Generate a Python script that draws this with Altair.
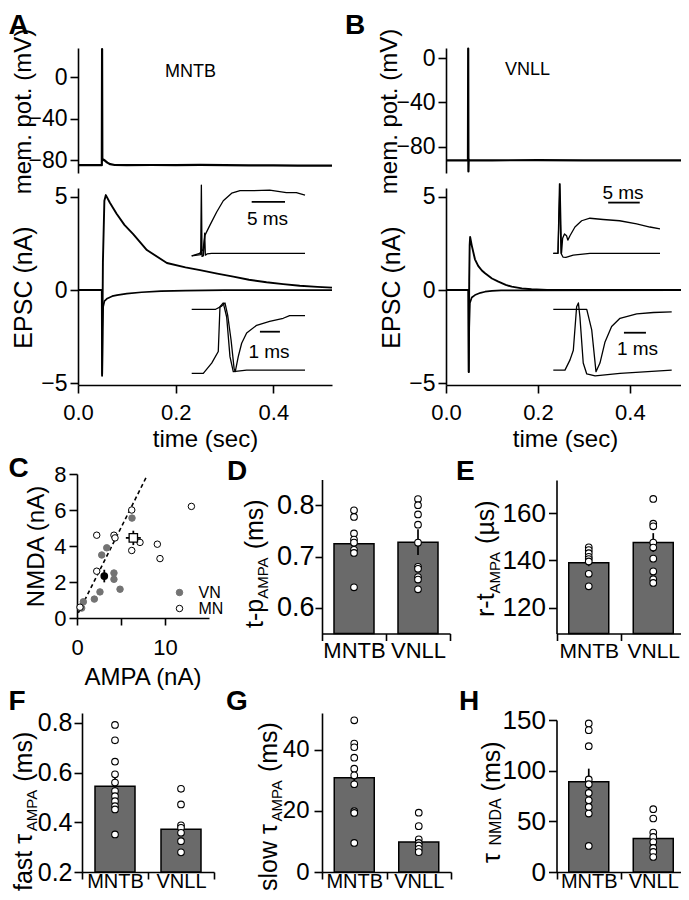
import altair as alt
import pandas as pd

# ------------------------------------------------------------------ data
# A (MNTB) membrane potential, time in s, mV
A_MEM_T = [0.0, 0.0488, 0.0493, 0.0498, 0.0515, 0.055, 0.06, 0.066, 0.075, 0.1, 0.15, 0.2, 0.25, 0.3, 0.35, 0.4, 0.45, 0.52]
A_MEM_V = [-85.0, -85.0, 27.0, -80.5, -79.5, -80.5, -82.5, -84.0, -84.8, -85.0, -84.8, -84.9, -84.7, -85.0, -85.1, -85.2, -85.3, -85.4]
# A EPSCs (nA): outward and inward
A_OUT_T = [0.0, 0.0488, 0.0493, 0.0510, 0.0540, 0.057, 0.065, 0.079, 0.095, 0.113, 0.141, 0.182, 0.22, 0.25, 0.285, 0.318, 0.35, 0.386, 0.42, 0.454, 0.49, 0.52]
A_OUT_V = [0.0, 0.0, -4.6, 1.5, 4.8, 5.1, 4.7, 4.1, 3.5, 3.0, 2.15, 1.45, 1.22, 1.07, 0.88, 0.72, 0.55, 0.42, 0.32, 0.23, 0.17, 0.13]
A_IN_T = [0.0, 0.0488, 0.0496, 0.0505, 0.0515, 0.054, 0.06, 0.07, 0.08, 0.1, 0.13, 0.17, 0.22, 0.3, 0.52]
A_IN_V = [0.0, 0.0, -4.5, -2.2, -0.9, -0.6, -0.45, -0.33, -0.27, -0.19, -0.12, -0.06, -0.03, -0.01, 0.0]
# A insets (ms, normalised amplitude)
AI1_UP_T = [0.0, 1.2, 1.7, 2.0, 2.74, 3.75, 4.74, 6.0, 7.25, 9.2, 11.7, 14.2, 15.7, 17.0]
AI1_UP_V = [-0.04, 0.0, 0.06, 0.29, 0.45, 0.66, 0.84, 0.96, 1.0, 1.0, 1.01, 0.97, 0.97, 0.93]
AI1_LO_T = [0.0, 1.35, 1.45, 1.55, 1.75, 1.95, 2.05, 2.3, 3.0, 17.0]
AI1_LO_V = [-0.04, -0.02, 1.09, -0.05, -0.04, 0.32, -0.03, -0.01, 0.0, 0.0]
AI2_X_T = [0.0, 0.58, 1.0, 1.33, 1.415, 1.58, 1.75, 1.915, 2.08, 2.75, 5.67]
AI2_X_V = [0.0, 0.0, 0.16, 0.34, 1.04, 1.10, 0.88, 0.26, 0.025, 0.05, 0.05]
AI2_Y_T = [0.0, 1.2, 1.5, 1.665, 1.8, 1.97, 2.12, 2.18, 2.33, 2.5, 2.75, 3.25, 3.9, 4.58, 4.9, 5.67]
AI2_Y_V = [1.0, 1.0, 1.05, 1.1, 0.91, 0.52, 0.08, 0.025, 0.26, 0.47, 0.63, 0.75, 0.81, 0.86, 0.9, 0.9]

# B (VNLL)
B_MEM_T = [0.0, 0.0478, 0.0483, 0.0488, 0.0493, 0.0505, 0.1, 0.2, 0.3, 0.4, 0.52]
B_MEM_V = [-92.0, -92.0, 8.5, -102.0, -91.0, -92.0, -92.0, -91.8, -92.0, -92.1, -92.0]
B_OUT_T = [0.0, 0.0488, 0.0494, 0.0505, 0.0515, 0.0525, 0.056, 0.063, 0.07, 0.078, 0.085, 0.1, 0.114, 0.13, 0.143, 0.165, 0.186, 0.22, 0.3, 0.52]
B_OUT_V = [0.0, 0.0, -4.4, 0.5, 2.4, 2.85, 2.4, 1.65, 1.3, 1.05, 0.9, 0.62, 0.45, 0.28, 0.18, 0.09, 0.04, 0.01, 0.0, 0.0]
B_IN_T = [0.0, 0.0488, 0.0496, 0.0505, 0.052, 0.056, 0.063, 0.075, 0.085, 0.1, 0.12, 0.52]
B_IN_V = [0.0, 0.0, -4.4, -2.0, -0.7, -0.4, -0.27, -0.15, -0.09, -0.05, -0.02, 0.0]
BI1_UP_T = [0.0, 0.74, 1.06, 1.3, 1.48, 1.77, 2.1, 2.3, 2.64, 3.43, 4.49, 5.8, 7.9, 10.5, 13.2, 15.3, 16.9]
BI1_UP_V = [0.0, 0.0, 1.11, 0.0, 0.24, 0.31, 0.28, 0.21, 0.28, 0.42, 0.52, 0.56, 0.54, 0.52, 0.47, 0.42, 0.39]
BI1_LO_T = [0.0, 0.74, 0.98, 1.22, 1.53, 2.0, 3.16, 5.8, 16.9]
BI1_LO_V = [0.0, 0.0, 1.11, 0.0, -0.06, -0.064, -0.03, 0.0, 0.0]
BI2_X_T = [0.0, 0.53, 0.76, 0.91, 1.06, 1.14, 1.21, 1.36, 1.52, 1.9, 3.03, 5.38]
BI2_X_V = [0.05, 0.05, 0.21, 0.36, 1.04, 1.1, 0.88, 0.16, -0.01, -0.04, 0.0, 0.05]
BI2_Y_T = [0.0, 1.52, 1.745, 1.9, 1.94, 2.12, 2.35, 2.65, 3.03, 3.79, 4.55, 5.38]
BI2_Y_V = [1.0, 1.0, 0.68, 0.16, 0.025, 0.16, 0.49, 0.73, 0.86, 0.93, 0.95, 0.96]

# C  NMDA vs AMPA (nA)
C_VN_X = [0.53, 0.72, 1.97, 2.61, 2.81, 3.38, 4.2, 4.2, 4.89, 6.25]
C_VN_Y = [0.55, 0.9, 1.05, 1.45, 3.5, 3.9, 2.5, 2.15, 1.6, 5.55]
C_MN_X = [0.34, 2.24, 2.24, 4.2, 4.32, 6.22, 6.22, 7.16, 9.13, 9.43, 13.0]
C_MN_Y = [0.6, 4.6, 2.6, 4.6, 4.45, 6.0, 3.75, 4.2, 4.1, 3.3, 6.2]
C_MEAN_GRP = ["VN", "MN"]
C_MEAN_X = [3.1, 6.4]
C_MEAN_Y = [2.33, 4.45]
C_SEM_X = [0.3, 0.85]
C_SEM_Y = [0.35, 0.4]
C_FIT_X = [0.15, 7.9]
C_FIT_Y = [0.28, 7.85]

GROUPS = ["MNTB", "VNLL"]
# D  t-p AMPA (ms)
D_MNTB = [0.79, 0.777, 0.745, 0.733, 0.727, 0.713, 0.707, 0.64]
D_VNLL = [0.812, 0.80, 0.782, 0.762, 0.727, 0.68, 0.676, 0.66, 0.655, 0.636]
D_MEAN = [0.725, 0.728]
D_SEM = [0.01, 0.025]
# E  r-t AMPA (us)
E_MNTB = [145.5, 144.3, 143.0, 141.5, 140.5, 139.5, 134.3, 129.0]
E_VNLL = [166.0, 155.5, 154.4, 147.5, 145.4, 140.7, 135.3, 132.0, 130.4]
E_MEAN = [139.0, 147.5]
E_SEM = [1.5, 4.0]
# F  fast tau AMPA (ms)
F_MNTB = [0.792, 0.730, 0.644, 0.593, 0.560, 0.526, 0.505, 0.485, 0.465, 0.452, 0.351]
F_VNLL = [0.535, 0.472, 0.388, 0.378, 0.358, 0.324, 0.279]
F_MEAN = [0.545, 0.372]
F_SEM = [0.045, 0.01]
# G  slow tau AMPA (ms)
G_MNTB = [49.6, 42.0, 40.8, 37.4, 33.8, 31.6, 28.7, 19.9, 19.3, 9.5]
G_VNLL = [19.4, 15.0, 10.7, 9.5, 8.7, 7.6, 6.5]
G_MEAN = [30.8, 9.8]
G_SEM = [1.7, 0.8]
# H  tau NMDA (ms)
H_MNTB = [146.6, 140.0, 124.2, 91.3, 86.7, 78.0, 70.8, 64.2, 57.7, 25.7]
H_VNLL = [62.0, 52.8, 38.9, 34.6, 29.6, 23.7, 19.8, 14.8]
H_MEAN = [89.0, 33.0]
H_SEM = [13.0, 3.0]

# ------------------------------------------------------------------ layout helpers
FONT = "Liberation Sans"
GRAY = "#6a6a6a"
W, H = 673, 884
M = 8  # page margin: positions below are page pixels


def px(v):
    return v - M


def qscale(domain, r0, r1):
    return alt.Scale(domain=domain, range=[px(r0), px(r1)], zero=False, nice=False)


def left_axis(ax_x, values, size=23, tick=8, pad=3, fmt=None, title=None,
              title_x=None, title_y=None, title_size=25):
    kw = dict(orient="left", offset=-px(ax_x), values=values, tickSize=tick,
              labelPadding=pad, labelFontSize=size)
    if fmt:
        kw["format"] = fmt
    if title:
        kw.update(title=title, titleX=title_x - ax_x, titleY=px(title_y), titleAngle=270,
                  titleAlign="center", titleBaseline="alphabetic", titleFontSize=title_size,
                  titleFontWeight="normal")
    else:
        kw["title"] = None
    return alt.Axis(**kw)


def bottom_axis(ax_y, values=None, size=23, tick=8, pad=11, fmt=None, title=None,
                title_x=None, title_y=None, title_size=25, label_expr=None, band=False):
    kw = dict(orient="bottom", offset=px(ax_y) - H, tickSize=tick, labelPadding=pad,
              labelFontSize=size, labelAngle=0)
    if values is not None:
        kw["values"] = values
    if fmt:
        kw["format"] = fmt
    if label_expr:
        kw["labelExpr"] = label_expr
    if band:
        kw["tickBand"] = "extent"
    if title:
        kw.update(title=title, titleX=px(title_x), titleY=title_y - ax_y, titleAlign="center",
                  titleBaseline="alphabetic", titleFontSize=title_size, titleFontWeight="normal")
    else:
        kw["title"] = None
    return alt.Axis(**kw)


def trace(ts, vs, xs, ys, xax=None, yax=None, width=1.7):
    d = pd.DataFrame({"t": ts, "v": vs, "i": list(range(len(ts)))})
    return alt.Chart(d).mark_line(color="black", strokeWidth=width, strokeJoin="round").encode(
        x=alt.X("t:Q", scale=xs, axis=xax), y=alt.Y("v:Q", scale=ys, axis=yax), order="i:Q")


def scalebar(t0, length, v, xs, ys):
    d = pd.DataFrame({"t0": [t0], "t1": [t0 + length], "v": [v]})
    return alt.Chart(d).mark_rule(color="black", strokeWidth=1.8).encode(
        x=alt.X("t0:Q", scale=xs, axis=None), x2="t1:Q", y=alt.Y("v:Q", scale=ys, axis=None))


def text(txt, x, y, size, align="left", baseline="alphabetic", weight="normal", angle=0):
    return alt.Chart(pd.DataFrame({"t": [txt]})).mark_text(
        align=align, baseline=baseline, font=FONT, fontSize=size, fontWeight=weight,
        color="black", angle=angle).encode(text="t:N", x=alt.value(px(x)), y=alt.value(px(y)))


ADV = {" ": 278, "(": 333, ")": 333, "-": 333, "A": 667, "D": 722, "M": 833, "N": 722, "P": 667,
       "a": 556, "f": 278, "l": 222, "m": 833, "o": 556, "p": 556, "r": 333, "s": 500, "t": 278,
       "w": 722, "µ": 576, "τ": 500}


def tw(s, size):
    return sum(ADV.get(c, 556) for c in s) / 1000.0 * size


def rot_title(pieces, base_x, start_y):
    """pieces: (text, font size, baseline shift, gap before) drawn bottom-to-top."""
    out = []
    y = start_y
    for txt, size, shift, gap in pieces:
        y -= gap
        out.append(text(txt, base_x + shift, y, size, angle=270))
        y -= tw(txt, size)
    return out


layers = []

# ------------------------------------------------------------------ A and B traces
def trace_panel(x0, x1, mem_t, mem_v, mem_dom, out_t, out_v, in_t, in_v, mem_title_x, epsc_title_x,
                time_x):
    xs = qscale([0, 0.52], x0, x1)
    ys_mem = qscale(mem_dom, 173, 48)
    ax_mem = left_axis(x0, [-80, -40, 0], title="mem. pot. (mV)", title_x=mem_title_x, title_y=111,
                       title_size=24)
    mem = trace(mem_t, mem_v, xs, ys_mem, None, ax_mem, width=2.2)
    ys_e = qscale([-5.1, 5.48], 385, 188)
    ax_e = left_axis(x0, [-5, 0, 5], title="EPSC (nA)", title_x=epsc_title_x, title_y=287)
    ax_t = bottom_axis(385, [0, 0.2, 0.4], size=22, pad=9, fmt=".1f", title="time (sec)",
                       title_x=time_x, title_y=446, title_size=24)
    epsc = alt.layer(trace(out_t, out_v, xs, ys_e, ax_t, ax_e, width=1.9),
                     trace(in_t, in_v, xs, ys_e, ax_t, ax_e, width=1.7))
    return [mem, epsc]


layers += trace_panel(78, 332, A_MEM_T, A_MEM_V, [-92.5, 28], A_OUT_T, A_OUT_V, A_IN_T, A_IN_V, 30.5, 31.5, 205)
layers += trace_panel(446, 685, B_MEM_T, B_MEM_V, [-103.4, 9], B_OUT_T, B_OUT_V, B_IN_T, B_IN_V, 396, 399, 565)

# insets
xs = qscale([0, 17], 191.7, 305); ys = qscale([0, 1], 253.3, 190.7)
layers.append(alt.layer(trace(AI1_UP_T, AI1_UP_V, xs, ys, width=1.3), trace(AI1_LO_T, AI1_LO_V, xs, ys, width=1.3),
                        scalebar(9.0, 5, 0.82, xs, ys)))
xs = qscale([0, 5.67], 191.7, 305); ys = qscale([0, 1], 373.3, 309.3)
layers.append(alt.layer(trace(AI2_X_T, AI2_X_V, xs, ys, width=1.3), trace(AI2_Y_T, AI2_Y_V, xs, ys, width=1.3),
                        scalebar(3.415, 1, 0.65, xs, ys)))
xs = qscale([0, 16.9], 553.3, 660); ys = qscale([0, 1], 253.3, 190.7)
layers.append(alt.layer(trace(BI1_UP_T, BI1_UP_V, xs, ys, width=1.3), trace(BI1_LO_T, BI1_LO_V, xs, ys, width=1.3),
                        scalebar(8.69, 5, 0.81, xs, ys)))
xs = qscale([0, 5.38], 553.3, 671.7); ys = qscale([0, 1], 373.3, 309.3)
layers.append(alt.layer(trace(BI2_X_T, BI2_X_V, xs, ys, width=1.3), trace(BI2_Y_T, BI2_Y_V, xs, ys, width=1.3),
                        scalebar(3.21, 1, 0.634, xs, ys)))

# ------------------------------------------------------------------ C scatter
cxs = qscale([0, 15], 77, 209)
cys = qscale([0, 8], 618, 474)
cax_y = left_axis(77, [0, 2, 4, 6, 8], size=22, tick=8, pad=3, title="NMDA (nA)", title_x=43, title_y=546,
                  title_size=24)
cax_x = bottom_axis(618, [0, 5, 10], size=22, tick=7, pad=12, title="AMPA (nA)", title_x=142.5,
                    title_y=684, title_size=24, label_expr="datum.value == 5 ? '' : datum.label")
CX = alt.X("x:Q", scale=cxs, axis=cax_x)
CY = alt.Y("y:Q", scale=cys, axis=cax_y)
fit = alt.Chart(pd.DataFrame({"x": C_FIT_X, "y": C_FIT_Y})).mark_line(
    color="black", strokeWidth=1.6, strokeDash=[4, 3]).encode(x=CX, y=CY)
pts = pd.DataFrame({"x": C_VN_X + C_MN_X, "y": C_VN_Y + C_MN_Y,
                    "g": ["VN"] * len(C_VN_X) + ["MN"] * len(C_MN_X)})
leg = alt.Legend(orient="none", legendX=px(171.5), legendY=px(584.5), title=None, labelFont=FONT,
                 labelFontSize=16, symbolSize=42, symbolStrokeWidth=1, labelOffset=11, rowPadding=0,
                 padding=0, symbolType="circle")
scat = alt.Chart(pts).mark_point(shape="circle", size=42, strokeWidth=1, opacity=1, filled=False).encode(
    x=CX, y=CY,
    fill=alt.Fill("g:N", scale=alt.Scale(domain=["VN", "MN"], range=["#737373", "white"]), legend=leg),
    stroke=alt.Stroke("g:N", scale=alt.Scale(domain=["VN", "MN"], range=["#737373", "black"]), legend=leg))
mean_df = pd.DataFrame({"g": C_MEAN_GRP, "x": C_MEAN_X, "y": C_MEAN_Y,
                        "xlo": [a - b for a, b in zip(C_MEAN_X, C_SEM_X)],
                        "xhi": [a + b for a, b in zip(C_MEAN_X, C_SEM_X)],
                        "ylo": [a - b for a, b in zip(C_MEAN_Y, C_SEM_Y)],
                        "yhi": [a + b for a, b in zip(C_MEAN_Y, C_SEM_Y)]})
errx = alt.Chart(mean_df).mark_rule(color="black", strokeWidth=1.8).encode(
    x=alt.X("xlo:Q", scale=cxs, axis=cax_x), x2="xhi:Q", y=CY)
erry = alt.Chart(mean_df).mark_rule(color="black", strokeWidth=1.8).encode(
    x=CX, y=alt.Y("ylo:Q", scale=cys, axis=cax_y), y2="yhi:Q")
m_vn = alt.Chart(mean_df).transform_filter("datum.g == 'VN'").mark_point(
    shape="circle", filled=True, color="black", size=60, opacity=1).encode(x=CX, y=CY)
m_mn = alt.Chart(mean_df).transform_filter("datum.g == 'MN'").mark_point(
    shape="square", filled=True, fill="white", stroke="black", strokeWidth=1.3, size=70, opacity=1).encode(x=CX, y=CY)
layers.append(alt.layer(fit, scat, errx, erry, m_vn, m_mn))


# ------------------------------------------------------------------ bar panels D-H
def bar_panel(mntb, vnll, mean, sem, dom, y0, y1, x0, x1, yvals, fmt=None, ysize=24, ypad=2, ytick=8,
              xsize=22, xpad=0):
    xs = alt.Scale(domain=GROUPS, range=[px(x0), px(x1)], paddingInner=0, paddingOuter=0)
    xax = bottom_axis(y0, size=xsize, tick=7, pad=xpad, band=True)
    ys = qscale(dom, y0, y1)
    yax = left_axis(x0, yvals, size=ysize, tick=ytick, pad=ypad, fmt=fmt)
    X = alt.X("g:N", scale=xs, axis=xax)
    bars = alt.Chart(pd.DataFrame({"g": GROUPS, "v": mean})).mark_bar(
        width=40, fill=GRAY, stroke="black", strokeWidth=1.5).encode(
        x=X, y=alt.Y("v:Q", scale=ys, axis=yax), y2=alt.datum(dom[0]))
    err = alt.Chart(pd.DataFrame({"g": GROUPS, "v": [m - s for m, s in zip(mean, sem)],
                                  "v2": [m + s for m, s in zip(mean, sem)]})).mark_rule(
        color="black", strokeWidth=1.7).encode(x=X, y=alt.Y("v:Q", scale=ys, axis=yax), y2="v2:Q")
    dots = alt.Chart(pd.DataFrame({"g": ["MNTB"] * len(mntb) + ["VNLL"] * len(vnll), "v": mntb + vnll})).mark_point(
        shape="circle", filled=True, fill="white", stroke="black", strokeWidth=1.1, size=44, opacity=1).encode(
        x=X, y=alt.Y("v:Q", scale=ys, axis=yax))
    return alt.layer(bars, err, dots)


BOT_PAD = -7.3  # bottom-row category labels sit just under the axis
layers.append(bar_panel(D_MNTB, D_VNLL, D_MEAN, D_SEM, [0.55, 0.85], 633.5, 479.5, 322, 450, [0.6, 0.7, 0.8], ".1f",
                        ysize=27, ypad=1, ytick=7))
layers.append(bar_panel(E_MNTB, E_VNLL, E_MEAN, E_SEM, [109, 174], 633.5, 480, 556.5, 685.5, [120, 140, 160],
                        ysize=26, ypad=3, xsize=21))
layers.append(bar_panel(F_MNTB, F_VNLL, F_MEAN, F_SEM, [0.2, 0.84], 872, 713, 82, 214, [0.2, 0.4, 0.6, 0.8], ".1f",
                        ysize=25, ypad=2, xsize=20, xpad=BOT_PAD))
layers.append(bar_panel(G_MNTB, G_VNLL, G_MEAN, G_SEM, [0, 52], 872, 713, 322, 451, [0, 20, 40],
                        ysize=24, ypad=5, xsize=20, xpad=BOT_PAD))
layers.append(bar_panel(H_MNTB, H_VNLL, H_MEAN, H_SEM, [0, 150], 872, 720, 556.5, 685.5, [0, 50, 100, 150],
                        ysize=26, ypad=3, xsize=20, xpad=BOT_PAD))

# ------------------------------------------------------------------ texts
for letter, x, y in [("A", 8.5, 33.5), ("B", 345, 33.5), ("C", 8.5, 477), ("D", 227, 480), ("E", 456, 480),
                     ("F", 8.5, 710), ("G", 226, 710), ("H", 459, 710)]:
    layers.append(text(letter, x, y, 28, weight="bold"))
layers.append(text("MNTB", 165, 77, 18))
layers.append(text("VNLL", 505, 75, 18))
layers.append(text("5 ms", 267.5, 225, 19, align="center"))
layers.append(text("1 ms", 269, 358, 19, align="center"))
layers.append(text("5 ms", 623, 198.5, 19, align="center"))
layers.append(text("1 ms", 637.5, 355, 19, align="center"))

layers += rot_title([("t-p", 25, 0, 0), ("AMPA", 15, 5, 0), ("(ms)", 25, 0, 7)], 263, 628)
layers += rot_title([("r-t", 25, 0, 0), ("AMPA", 15, 6, 0), ("(µs)", 25, 0, 7)], 493.5, 617)
layers += rot_title([("fast τ", 25, 0, 0), ("AMPA", 15, 5, 0), ("(ms)", 25, 0, 7)], 31.5, 891)
layers += rot_title([("slow τ", 25, 0, 0), ("AMPA", 15, 5, 0), ("(ms)", 25, 0, 7)], 276.7, 891)
layers += rot_title([("τ", 25, 0, 0), ("NMDA", 16, 1, 5), ("(ms)", 25, 0, 7)], 500, 863)

chart = alt.layer(*layers).resolve_scale(x="independent", y="independent").properties(
    width=W, height=H, autosize=alt.AutoSizeParams(type="none"), padding=0
).configure_view(stroke=None).configure_axis(
    domainColor="black", tickColor="black", labelColor="black", titleColor="black",
    domainWidth=1.6, tickWidth=1.6, labelFont=FONT, titleFont=FONT, grid=False,
    labelFlush=False, labelOverlap=False
)

chart.save("out.html", embed_options={"renderer": "svg", "actions": False})
